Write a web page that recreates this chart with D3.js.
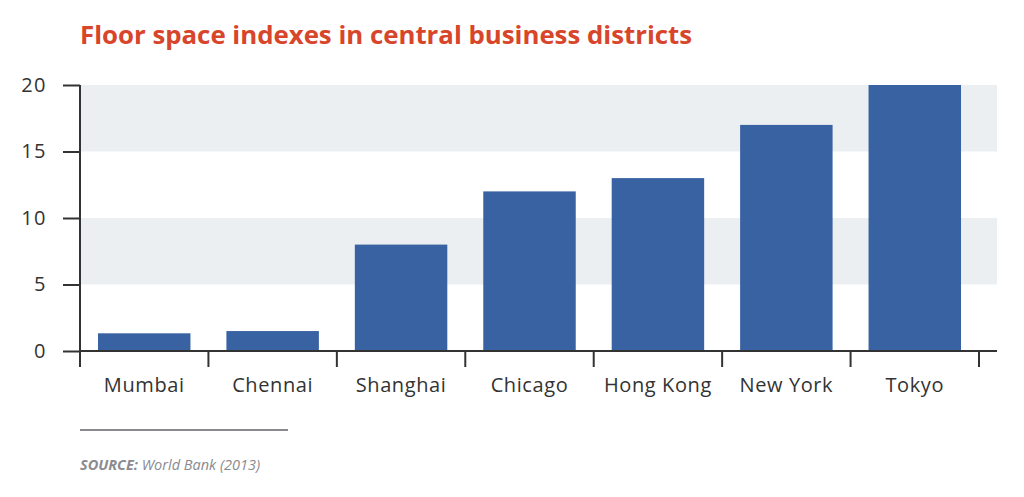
<!DOCTYPE html>
<html>
<head>
<meta charset="utf-8">
<script src="https://cdn.jsdelivr.net/npm/d3@7"></script>
<style>
  body { margin: 0; background: #fff; }
  text { font-family: "Open Sans", Lato, sans-serif; }
</style>
</head>
<body>
<svg id="chart"></svg>
<script>
const cities = ["Mumbai", "Chennai", "Shanghai", "Chicago", "Hong Kong", "New York", "Tokyo"]
const fsi = [1.33, 1.5, 8, 12, 13, 17, 20]
const yTicks = [0, 5, 10, 15, 20]
const bands = [[5, 10], [15, 20]]

const width = 1024, height = 497
const mLeft = 80, mRight = 979, mTop = 85, mBottom = 351

const svg = d3.select("#chart")
    .attr("width", width)
    .attr("height", height)

const x = d3.scaleBand()
    .domain(cities)
    .range([mLeft, mRight])
    .paddingInner(0.28)
    .paddingOuter(0.14)

const y = d3.scaleLinear()
    .domain([0, 20])
    .range([mBottom, mTop])

// grey stripes
svg.selectAll("rect.band")
    .data(bands)
    .enter()
    .append("rect")
    .attr("class", "band")
    .attr("x", mLeft)
    .attr("width", 997 - mLeft)
    .attr("y", d => y(d[1]))
    .attr("height", d => y(d[0]) - y(d[1]))
    .attr("fill", "#eceff2")

// bars
svg.selectAll("rect.bar")
    .data(fsi)
    .enter()
    .append("rect")
    .attr("class", "bar")
    .attr("x", (d, i) => x(cities[i]))
    .attr("width", x.bandwidth())
    .attr("y", d => y(d))
    .attr("height", d => y(0) - y(d))
    .attr("fill", "#3862a1")

// y axis
const yAxis = svg.append("g")
    .attr("transform", `translate(${mLeft},0)`)
    .call(d3.axisLeft(y).tickValues(yTicks).tickSize(17).tickPadding(16))
yAxis.select(".domain").attr("stroke", "#333").attr("stroke-width", 2).attr("d", `M0,${mTop}V${mBottom}`)
yAxis.selectAll(".tick line").attr("stroke", "#333").attr("stroke-width", 2)
yAxis.selectAll(".tick text")
    .attr("fill", "#333")
    .attr("font-size", 20)
    .attr("letter-spacing", 1.5)

// x axis
const half = x.paddingInner() * x.step() / 2
svg.append("line")
    .attr("x1", mLeft).attr("x2", 997)
    .attr("y1", mBottom).attr("y2", mBottom)
    .attr("stroke", "#333").attr("stroke-width", 2)

const bounds = cities.map(c => x(c) - half).concat([x(cities[cities.length - 1]) + x.bandwidth() + half])
svg.selectAll("line.xtick")
    .data(bounds)
    .enter()
    .append("line")
    .attr("class", "xtick")
    .attr("x1", d => d).attr("x2", d => d)
    .attr("y1", mBottom).attr("y2", mBottom + 16)
    .attr("stroke", "#333").attr("stroke-width", 2)

svg.selectAll("text.xlab")
    .data(cities)
    .enter()
    .append("text")
    .attr("class", "xlab")
    .attr("x", d => x(d) + x.bandwidth() / 2)
    .attr("y", 392)
    .attr("text-anchor", "middle")
    .attr("font-size", 20)
    .attr("letter-spacing", 0.6)
    .attr("fill", "#333")
    .text(d => d)

// title
svg.append("text")
    .attr("x", 80)
    .attr("y", 44)
    .attr("font-size", 25.8)
    .attr("font-weight", "bold")
    .attr("fill", "#d7452a")
    .text("Floor space indexes in central business districts")

// source
svg.append("line")
    .attr("x1", 80).attr("x2", 288)
    .attr("y1", 430).attr("y2", 430)
    .attr("stroke", "#8a8a8e").attr("stroke-width", 2)

const src = svg.append("text")
    .attr("x", 80)
    .attr("y", 470)
    .attr("font-size", 14.5)
    .attr("font-style", "italic")
    .attr("fill", "#8a8a90")
src.append("tspan").attr("font-weight", "bold").text("SOURCE:")
src.append("tspan").text(" World Bank (2013)")
</script>
</body>
</html>
